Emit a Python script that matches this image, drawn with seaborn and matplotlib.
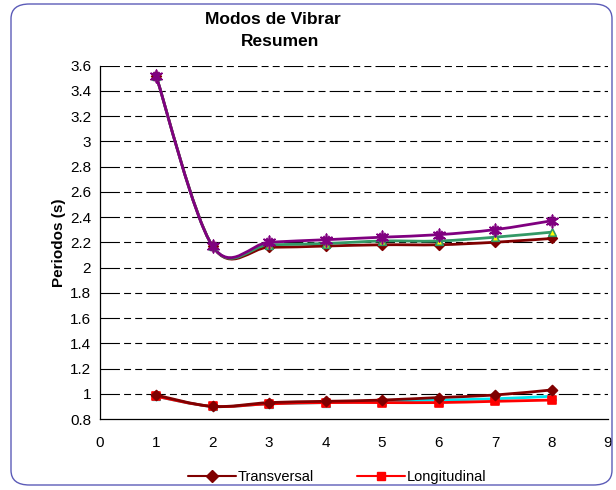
import numpy as np
import matplotlib
matplotlib.use("Agg")
import matplotlib.pyplot as plt
from matplotlib.path import Path
from matplotlib.patches import PathPatch, FancyBboxPatch
from matplotlib.lines import Line2D
import seaborn as sns
import pandas as pd

# Mode numbers and periods (s)
modes = [1, 2, 3, 4, 5, 6, 7, 8]
transversal = [0.99, 0.90, 0.93, 0.94, 0.95, 0.97, 0.99, 1.03]
longitudinal = [0.98, 0.90, 0.92, 0.93, 0.93, 0.93, 0.94, 0.95]
lower_c = [0.98, 0.90, 0.92, 0.93, 0.94, 0.95, 0.96, 0.98]
upper_a = [3.52, 2.17, 2.16, 2.17, 2.18, 2.18, 2.20, 2.23]
upper_b = [3.52, 2.17, 2.18, 2.19, 2.21, 2.21, 2.24, 2.28]
upper_c = [3.52, 2.17, 2.20, 2.22, 2.24, 2.26, 2.30, 2.37]

y_ticks = [0.8, 1.0, 1.2, 1.4, 1.6, 1.8, 2.0, 2.2, 2.4, 2.6, 2.8, 3.0, 3.2, 3.4, 3.6]
y_labels = ["0.8", "1", "1.2", "1.4", "1.6", "1.8", "2", "2.2", "2.4", "2.6",
            "2.8", "3", "3.2", "3.4", "3.6"]
x_ticks = list(range(0, 10))

sns.set_theme(style="white")
plt.rcParams["font.family"] = ["Liberation Sans", "DejaVu Sans"]
plt.rcParams["lines.scale_dashes"] = False
plt.rcParams["text.color"] = "black"
plt.rcParams["axes.labelcolor"] = "black"

fig = plt.figure(figsize=(6.16, 4.9), dpi=100)
ax = fig.add_axes([99.5 / 616, 1 - 419 / 490, (608 - 99.5) / 616, (419 - 65.5) / 490])


def smooth_path(x, y):
    """Smoothed line through the points: cubic Bezier segments with
    Catmull-Rom style control points."""
    pts = np.column_stack([x, y]).astype(float)
    n = len(pts)
    verts = [pts[0]]
    codes = [Path.MOVETO]
    for i in range(n - 1):
        p0 = pts[i - 1] if i > 0 else pts[i]
        p1 = pts[i]
        p2 = pts[i + 1]
        p3 = pts[i + 2] if i + 2 < n else pts[i + 1]
        verts += [p1 + (p2 - p0) / 6, p2 - (p3 - p1) / 6, p2]
        codes += [Path.CURVE4] * 3
    return Path(verts, codes)


series = [
    # (values, line colour, marker, marker face, marker edge, marker size)
    (lower_c, "#00E5EE", "^", "#00E5EE", "#00E5EE", 30),
    (longitudinal, "#FF0000", "s", "#FF0000", "#FF0000", 26),
    (transversal, "#800000", "D", "#800000", "#800000", 26),
    (upper_a, "#800000", "D", "#800000", "#800000", 24),
    (upper_b, "#339966", "^", "#FFFF00", "#339966", 30),
    (upper_c, "#800080", (6, 2, 0), "#800080", "#800080", 80),
]

for vals, lc, mk, mfc, mec, ms in series:
    ax.add_patch(PathPatch(smooth_path(modes, vals), facecolor="none",
                           edgecolor=lc, lw=2.0, zorder=3))
    df = pd.DataFrame({"mode": modes, "period": vals})
    sns.scatterplot(data=df, x="mode", y="period", ax=ax, marker=mk, s=ms,
                    color=mfc, edgecolor=mec, linewidth=1.2, zorder=4, legend=False)

# purple stars get a filled core so they sit solidly on top
df_c = pd.DataFrame({"mode": modes, "period": upper_c})
sns.scatterplot(data=df_c, x="mode", y="period", ax=ax, marker="X", s=45,
                color="#800080", edgecolor="#800080", linewidth=0.5, zorder=5,
                legend=False)

ax.set_xlim(0, 9)
ax.set_ylim(0.8, 3.6)
ax.set_xticks(x_ticks)
ax.set_xticklabels([str(t) for t in x_ticks])
ax.set_yticks(y_ticks)
ax.set_yticklabels(y_labels)
ax.set_xlabel("")
ax.set_ylabel("Periodos (s)", fontsize=11, fontweight="bold", labelpad=3,
              color="black")

for t in y_ticks[1:]:
    ax.axhline(t, color="black", lw=0.8,
               linestyle=(0, (14, 3, 5, 3, 5, 3)), zorder=1)

for side in ["top", "right"]:
    ax.spines[side].set_visible(False)
for side in ["left", "bottom"]:
    ax.spines[side].set_color("black")
    ax.spines[side].set_linewidth(0.9)
ax.tick_params(axis="both", direction="out", length=4, width=0.9,
               color="black", labelsize=11, labelcolor="black", pad=2)
ax.tick_params(axis="x", pad=8)

fig.text(273 / 616, 1 - 19 / 490, "Modos de Vibrar", ha="center", va="center",
         fontsize=12.5, fontweight="bold", color="black")
fig.text(280 / 616, 1 - 42 / 490, "Resumen", ha="center", va="center",
         fontsize=12.5, fontweight="bold", color="black")

handles = [
    Line2D([], [], color="#800000", lw=1.5, marker="D", markersize=6,
           markerfacecolor="#800000", markeredgecolor="#800000"),
    Line2D([], [], color="#FF0000", lw=1.5, marker="s", markersize=6,
           markerfacecolor="#FF0000", markeredgecolor="#FF0000"),
]
fig.legend(handles, ["Transversal", "Longitudinal"], ncol=2, frameon=False,
           loc="center", bbox_to_anchor=(337 / 616, 1 - 477 / 490),
           fontsize=10.5, handlelength=3.3, handletextpad=0.1, columnspacing=3.0,
           labelcolor="black")

border = FancyBboxPatch((11 / 616, 5 / 490), (612 - 11) / 616, (486 - 5) / 490,
                        boxstyle="round,pad=0,rounding_size=0.03",
                        transform=fig.transFigure, facecolor="none",
                        edgecolor="#5c5cb8", lw=1.0, zorder=0)
fig.patches.append(border)

fig.savefig("out.png", dpi=100)
